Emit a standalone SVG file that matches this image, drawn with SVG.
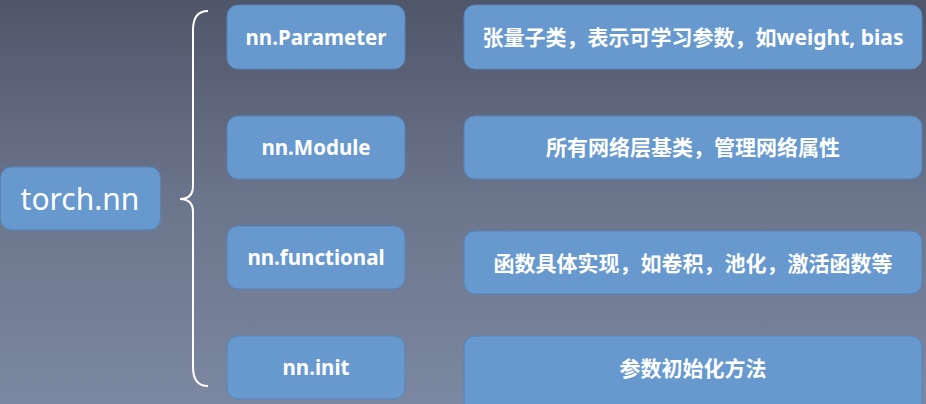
<svg xmlns="http://www.w3.org/2000/svg" width="926" height="404" viewBox="0 0 926 404">
<defs>
<linearGradient id="bg" x1="0" y1="0" x2="0" y2="1">
<stop offset="0" stop-color="#50566a"/>
<stop offset="0.5" stop-color="#6b758b"/>
<stop offset="1" stop-color="#7c87a1"/>
</linearGradient>
</defs>
<style>
.box{fill:#6799cf;stroke:#5784b8;stroke-width:1}
.t2{font-family:"Noto Sans","Open Sans","Liberation Sans",sans-serif;font-weight:bold;font-size:20.5px;fill:#ffffff;text-anchor:middle;dominant-baseline:central}
.t3{font-family:"Noto Sans","Noto Sans CJK SC",sans-serif;font-weight:bold;font-size:21px;fill:#ffffff;text-anchor:middle;dominant-baseline:central}
.t1{font-family:"Noto Sans","Open Sans","Liberation Sans",sans-serif;font-size:30px;fill:#ffffff;text-anchor:middle;dominant-baseline:central}
.brace{fill:none;stroke:#ffffff;stroke-width:2}
</style>
<rect x="0" y="0" width="926" height="404" fill="url(#bg)"/>
<g id="connectors">
<path class="brace" d="M208,11 Q193,11 193,30 L193,186 Q193,199 180,199 Q193,199 193,212 L193,367 Q193,386 208,386"/>
</g>
<g id="torch-nn">
<rect class="box" x="0.5" y="167" width="160" height="63" rx="11"/>
<text class="t1" x="80" y="198">torch.nn</text>
</g>
<g id="nn-parameter">
<rect class="box" x="227" y="5" width="178" height="64" rx="11"/>
<text class="t2" x="316" y="37">nn.Parameter</text>
</g>
<g id="nn-module">
<rect class="box" x="227" y="116" width="178" height="63" rx="11"/>
<text class="t2" x="316" y="147">nn.Module</text>
</g>
<g id="nn-functional">
<rect class="box" x="227" y="226" width="178" height="63" rx="11"/>
<text class="t2" x="316" y="257">nn.functional</text>
</g>
<g id="nn-init">
<rect class="box" x="227" y="336" width="178" height="63" rx="11"/>
<text class="t2" x="316" y="367">nn.init</text>
</g>
<g id="desc-parameter">
<rect class="box" x="464" y="5" width="458" height="64" rx="11"/>
<text class="t3" x="693" y="37">张量子类，表示可学习参数，如weight, bias</text>
</g>
<g id="desc-module">
<rect class="box" x="464" y="116" width="458" height="63" rx="11"/>
<text class="t3" x="693" y="147">所有网络层基类，管理网络属性</text>
</g>
<g id="desc-functional">
<rect class="box" x="464" y="231" width="458" height="63" rx="11"/>
<text class="t3" x="693" y="263">函数具体实现，如卷积，池化，激活函数等</text>
</g>
<g id="desc-init">
<rect class="box" x="464" y="336" width="458" height="80" rx="11"/>
<text class="t3" x="693" y="368">参数初始化方法</text>
</g>
</svg>
